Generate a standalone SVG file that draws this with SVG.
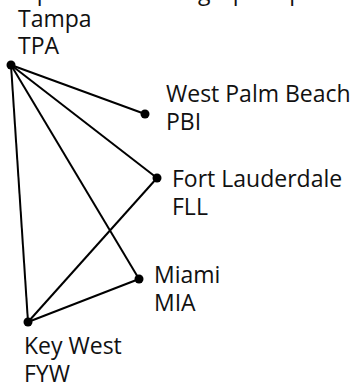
<svg xmlns="http://www.w3.org/2000/svg" width="362" height="387" viewBox="0 0 362 387">
<style>
  text { font-family: "Open Sans", "Noto Sans", sans-serif; font-size: 23px; fill: #111; }
  .edge { stroke: #000; stroke-width: 2; fill: none; }
  .node { fill: #000; }
</style>
<rect width="362" height="387" fill="#fff"/>
<text id="title" x="-3" y="0">Simple undirected graph represents flights</text>
<g id="edges">
  <line class="edge" x1="11" y1="65" x2="145" y2="114"/>
  <line class="edge" x1="11" y1="65" x2="157" y2="178"/>
  <line class="edge" x1="11" y1="65" x2="139" y2="279"/>
  <line class="edge" x1="11" y1="65" x2="28" y2="322"/>
  <line class="edge" x1="157" y1="178" x2="28" y2="322"/>
  <line class="edge" x1="139" y1="279" x2="28" y2="322"/>
</g>
<g id="TPA">
  <circle class="node" cx="11" cy="65" r="4.5"/>
  <text x="18" y="27">Tampa</text>
  <text x="18" y="54">TPA</text>
</g>
<g id="PBI">
  <circle class="node" cx="145" cy="114" r="4.5"/>
  <text x="166" y="102">West Palm Beach</text>
  <text x="166" y="130">PBI</text>
</g>
<g id="FLL">
  <circle class="node" cx="157" cy="178" r="4.5"/>
  <text x="172" y="187">Fort Lauderdale</text>
  <text x="172" y="215">FLL</text>
</g>
<g id="MIA">
  <circle class="node" cx="139" cy="279" r="4.5"/>
  <text x="154" y="283">Miami</text>
  <text x="154" y="311">MIA</text>
</g>
<g id="FYW">
  <circle class="node" cx="28" cy="322" r="4.5"/>
  <text x="24" y="354">Key West</text>
  <text x="24" y="382">FYW</text>
</g>
</svg>
